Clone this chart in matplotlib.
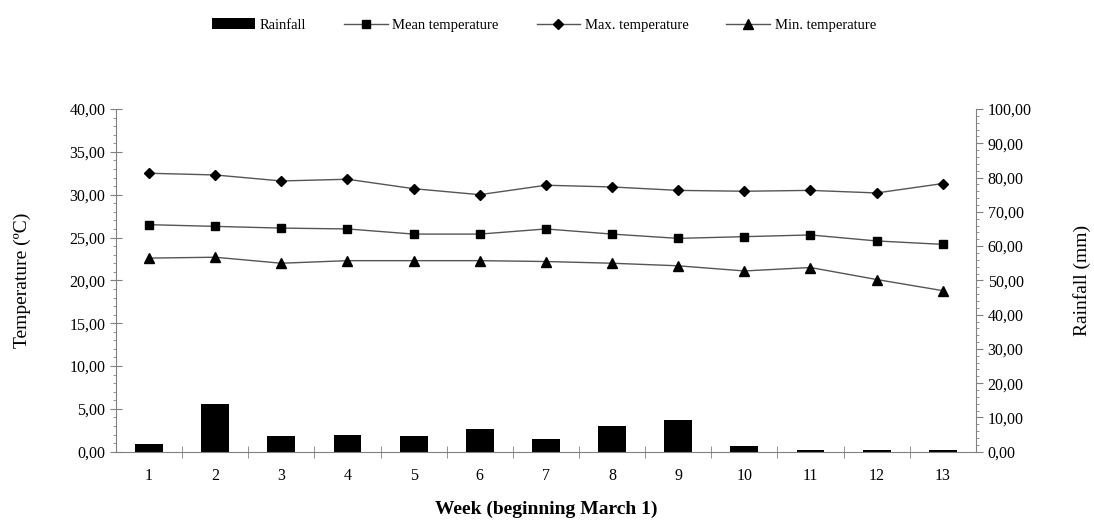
import numpy as np
import matplotlib.pyplot as plt
from matplotlib.ticker import FuncFormatter, MultipleLocator

weeks = list(range(1, 14))
rainfall = [2.3, 13.8, 4.6, 5.0, 4.6, 6.5, 3.6, 7.5, 9.3, 1.6, 0.4, 0.4, 0.4]
mean_temp = [26.5, 26.3, 26.1, 26.0, 25.4, 25.4, 26.0, 25.4, 24.9, 25.1, 25.3, 24.6, 24.2]
max_temp = [32.5, 32.3, 31.6, 31.8, 30.7, 30.0, 31.1, 30.9, 30.5, 30.4, 30.5, 30.2, 31.3]
min_temp = [22.6, 22.7, 22.0, 22.3, 22.3, 22.3, 22.2, 22.0, 21.7, 21.1, 21.5, 20.1, 18.8]

plt.rcParams['font.family'] = ['Liberation Serif', 'DejaVu Serif']

def comma_fmt(v, pos):
    return f"{v:.2f}".replace('.', ',')

fig = plt.figure(figsize=(10.94, 5.29), dpi=100)
ax = fig.add_axes([0.106, 0.146, 0.786, 0.648])
ax2 = ax.twinx()

x = np.array(weeks)
axis_col = '#808080'

# rainfall bars on right axis
ax2.bar(x, rainfall, width=0.42, color='black', label='Rainfall', zorder=2)
ax2.set_ylim(0, 100)
ax2.yaxis.set_major_locator(MultipleLocator(10))
ax2.yaxis.set_minor_locator(MultipleLocator(2))
ax2.yaxis.set_major_formatter(FuncFormatter(comma_fmt))
ax2.set_ylabel('Rainfall (mm)', fontsize=14, labelpad=30)

# temperature lines on left axis
ax.set_zorder(ax2.get_zorder() + 1)
ax.patch.set_visible(False)
line_kw = dict(color='#555555', lw=1.0, mfc='black', mec='black')
ax.plot(x, mean_temp, marker='s', ms=6, label='Mean temperature', **line_kw)
ax.plot(x, max_temp, marker='D', ms=5, label='Max. temperature', **line_kw)
ax.plot(x, min_temp, marker='^', ms=6.5, label='Min. temperature', **line_kw)

ax.set_xlim(0.5, 13.5)
ax.set_ylim(0, 40)
ax.yaxis.set_major_locator(MultipleLocator(5))
ax.yaxis.set_minor_locator(MultipleLocator(1))
ax.yaxis.set_major_formatter(FuncFormatter(comma_fmt))
ax.set_ylabel('Temperature (ºC)', fontsize=14, labelpad=28)
ax.set_xticks(x)
ax.set_xticklabels([str(w) for w in weeks])
ax.set_xticks(np.arange(1.5, 13.5, 1), minor=True)
ax.tick_params(axis='x', which='major', length=0, pad=12, labelsize=11.5)
ax.tick_params(axis='x', which='minor', length=8, direction='inout', color=axis_col)
ax.tick_params(axis='y', which='major', length=8, direction='inout', color=axis_col, labelsize=11.5)
ax.tick_params(axis='y', which='minor', length=2, direction='out', color=axis_col)
ax2.tick_params(axis='y', which='major', length=5, direction='out', color=axis_col, labelsize=11.5)
ax2.tick_params(axis='y', which='minor', length=2, direction='out', color=axis_col)
ax.set_xlabel('Week (beginning March 1)', fontsize=14, fontweight='bold', labelpad=12)

for a in (ax, ax2):
    a.spines['top'].set_visible(False)
    for s in ('left', 'right', 'bottom'):
        a.spines[s].set_color(axis_col)
ax.spines['right'].set_visible(False)
ax2.spines['left'].set_visible(False)
ax2.spines['bottom'].set_visible(False)

h1, l1 = ax2.get_legend_handles_labels()
h2, l2 = ax.get_legend_handles_labels()
fig.legend(h1 + h2, l1 + l2, loc='upper center', bbox_to_anchor=(0.497, 0.99),
           ncol=4, frameon=False, fontsize=10.5, handlelength=3.0,
           handletextpad=0.3, columnspacing=2.6)

fig.savefig('out.png', dpi=100)
